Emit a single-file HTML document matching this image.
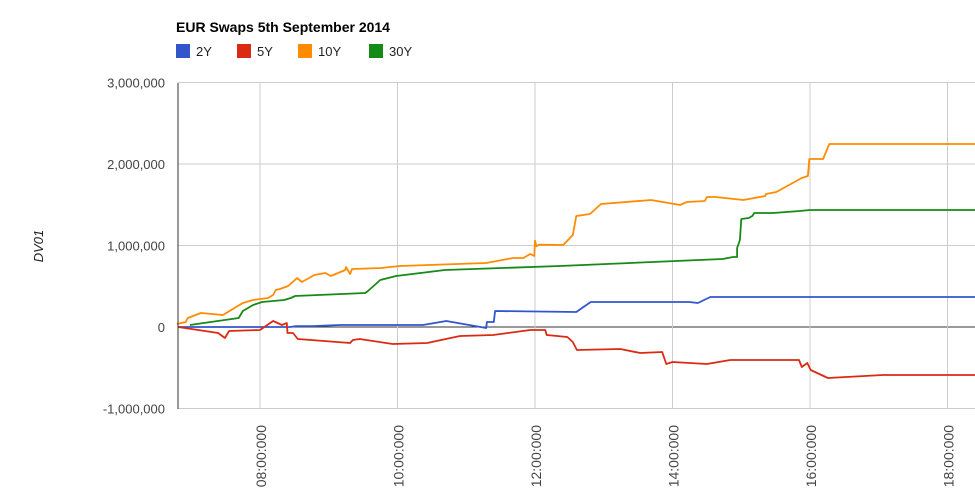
<!DOCTYPE html>
<html><head><meta charset="utf-8"><style>
body{margin:0;background:#fff;font-family:"Liberation Sans",Arial,sans-serif;}
svg text{font-family:"Liberation Sans",Arial,sans-serif;}
</style></head><body>
<svg id="chart" width="975" height="498" xmlns="http://www.w3.org/2000/svg">
<text x="176" y="32" font-size="14" font-weight="bold" fill="#000">EUR Swaps 5th September 2014</text>
<g id="legend"></g>
<g id="grid"></g>
<g id="series"></g>
<g id="axes"></g>
<text transform="translate(43,246) rotate(-90)" text-anchor="middle" font-size="13" font-style="italic" fill="#222">DV01</text>
</svg>
<script>
const seriesNames=["2Y","5Y","10Y","30Y"];
const seriesColors=["#3355cc","#dc2a12","#ff8c00","#168a16"];
const yTicks=[-1000,0,1000,2000,3000];
const yTickLabels=["-1,000,000","0","1,000,000","2,000,000","3,000,000"];
const xTicks=[8,10,12,14,16,18];
const xTickLabels=["08:00:000","10:00:000","12:00:000","14:00:000","16:00:000","18:00:000"];
const t2Y=[6.81,8.44,8.52,8.76,9.16,10.37,10.71,11.29,11.30,11.40,11.42,12.60,12.81,12.95,14.24,14.37,14.55,18.40];
const v2Y=[0,0,10,10,25,25,74,-12,61,61,196,184,307,307,307,294,368,368];
const t5Y=[6.81,7.39,7.49,7.55,8.00,8.19,8.32,8.39,8.40,8.48,8.55,9.31,9.35,9.45,9.93,10.43,10.91,11.39,11.93,12.15,12.17,12.47,12.55,12.61,13.24,13.53,13.85,13.91,14.00,14.50,14.84,15.84,15.88,15.96,16.01,16.26,17.06,18.40];
const v5Y=[0,-74,-135,-49,-37,74,25,49,-74,-74,-147,-196,-160,-147,-209,-196,-110,-98,-37,-37,-98,-123,-184,-282,-270,-319,-307,-454,-429,-454,-405,-405,-491,-442,-528,-626,-589,-589];
const t10Y=[6.79,6.92,6.95,7.14,7.46,7.75,7.90,8.12,8.19,8.23,8.29,8.41,8.54,8.61,8.79,8.95,9.03,9.24,9.25,9.31,9.34,9.77,9.89,10.04,11.29,11.68,11.83,11.93,11.99,12.00,12.02,12.06,12.41,12.55,12.60,12.80,12.96,13.69,14.11,14.21,14.47,14.50,14.63,15.03,15.35,15.36,15.51,15.88,15.97,15.99,16.19,16.28,18.40];
const v10Y=[37,61,110,172,147,294,331,356,393,454,466,503,601,552,638,663,626,699,736,650,712,724,736,748,785,847,847,896,871,1060,990,1010,1006,1129,1362,1386,1509,1558,1497,1534,1546,1595,1595,1558,1607,1632,1656,1828,1853,2061,2061,2245,2245];
const t30Y=[6.98,7.69,7.75,7.90,8.03,8.35,8.45,8.51,9.53,9.57,9.75,9.98,10.69,12.36,14.73,14.88,14.94,14.94,14.98,15.00,15.11,15.16,15.19,15.46,15.85,16.00,18.40];
const v30Y=[25,110,196,270,307,331,356,380,417,442,577,626,699,748,834,859,859,969,1067,1325,1337,1362,1399,1399,1423,1436,1436];
const seriesT=[t2Y,t5Y,t10Y,t30Y], seriesV=[v2Y,v5Y,v10Y,v30Y];
const L=178,R=975,T=83,B=409;
const X=h=>260+(h-8)*68.75;
const Y=v=>327-v*0.0815;
const NS="http://www.w3.org/2000/svg";
function mk(tag,parent,attrs){const e=document.createElementNS(NS,tag);for(const k in attrs)e.setAttribute(k,attrs[k]);parent.appendChild(e);return e;}
const grid=document.getElementById('grid'),axes=document.getElementById('axes'),ser=document.getElementById('series'),leg=document.getElementById('legend');
yTicks.forEach((v,i)=>{
 const l=mk('line',grid,{x1:L,x2:R,y1:Y(v),y2:Y(v),stroke:v===0?'#333':'#ccc','stroke-width':1});
 
 
 const t=mk('text',axes,{x:165,y:Y(v)+5,'text-anchor':'end','font-size':13,fill:'#444'});
 t.textContent=yTickLabels[i];
 
 
});
xTicks.forEach((h,i)=>{
 const l=mk('line',grid,{x1:X(h),x2:X(h),y1:T,y2:B,stroke:'#ccc','stroke-width':1});
 
 
 const t=mk('text',axes,{transform:`translate(${X(h)+6},425) rotate(-90)`,'text-anchor':'end','font-size':14,fill:'#444'});
 t.textContent=xTickLabels[i];
 
 
});
const ax=mk('line',axes,{x1:L,x2:L,y1:T,y2:B,stroke:'#333','stroke-width':1});


seriesNames.forEach((n,i)=>{
 const p=mk('polyline',ser,{points:seriesT[i].map((t,j)=>X(t).toFixed(1)+','+Y(seriesV[i][j]).toFixed(1)).join(' '),fill:'none',stroke:seriesColors[i],'stroke-width':1.8,'stroke-linejoin':'round'});
 
 
});
const lx=[176,237,298,369];
seriesNames.forEach((n,i)=>{
 const r=mk('rect',leg,{x:lx[i],y:44,width:14,height:14,fill:seriesColors[i]});
 
 
 const t=mk('text',leg,{x:lx[i]+20,y:56,'font-size':13,fill:'#222'});
 t.textContent=n;
 
 
});
</script>
</body></html>
